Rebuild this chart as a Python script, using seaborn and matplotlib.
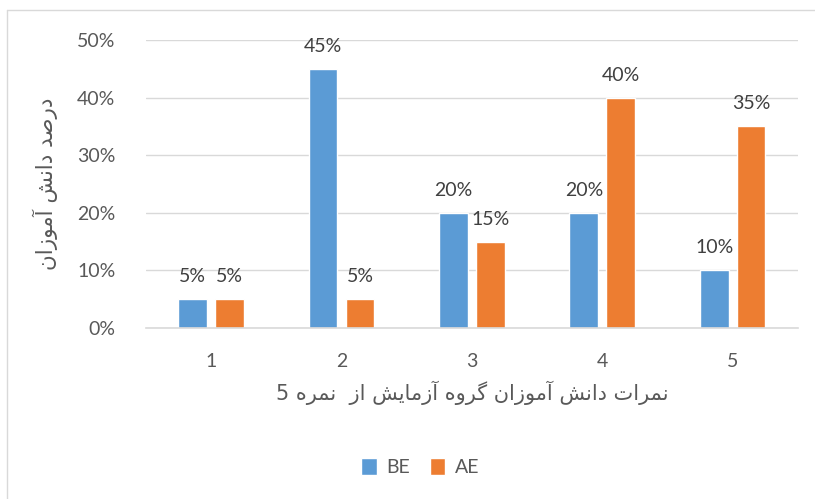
import pandas as pd
import matplotlib
matplotlib.use("Agg")
import matplotlib.pyplot as plt
from matplotlib.lines import Line2D
import seaborn as sns

# data
scores = ["1", "2", "3", "4", "5"]
be_values = [0.05, 0.45, 0.20, 0.20, 0.10]
ae_values = [0.05, 0.05, 0.15, 0.40, 0.35]
series = ["BE", "AE"]
y_ticks = [0, 0.1, 0.2, 0.3, 0.4, 0.5]
y_label = "درصد دانش آموزان"
x_label = "نمرات دانش آموزان گروه آزمایش از  نمره 5"

# tiny arabic shaper (no arabic_reshaper in the sandbox)
forms = {
    "ا": ("\uFE8D", "\uFE8E", None, None),
    "آ": ("\uFE81", "\uFE82", None, None),
    "د": ("\uFEA9", "\uFEAA", None, None),
    "ر": ("\uFEAD", "\uFEAE", None, None),
    "ز": ("\uFEAF", "\uFEB0", None, None),
    "و": ("\uFEED", "\uFEEE", None, None),
    "ت": ("\uFE95", "\uFE96", "\uFE97", "\uFE98"),
    "ش": ("\uFEB5", "\uFEB6", "\uFEB7", "\uFEB8"),
    "ص": ("\uFEB9", "\uFEBA", "\uFEBB", "\uFEBC"),
    "م": ("\uFEE1", "\uFEE2", "\uFEE3", "\uFEE4"),
    "ن": ("\uFEE5", "\uFEE6", "\uFEE7", "\uFEE8"),
    "ه": ("\uFEE9", "\uFEEA", "\uFEEB", "\uFEEC"),
    "ی": ("\uFBFC", "\uFBFD", "\uFBFE", "\uFBFF"),
    "گ": ("\uFB92", "\uFB93", "\uFB94", "\uFB95"),
}


def shape(s):
    out = []
    for i, c in enumerate(s):
        if c not in forms:
            out.append(c)
            continue
        prev = s[i - 1] if i > 0 else None
        nxt = s[i + 1] if i + 1 < len(s) else None
        jp = prev in forms and forms[prev][2] is not None
        jn = forms[c][2] is not None and nxt in forms
        iso, fin, ini, med = forms[c]
        if jp and jn:
            out.append(med)
        elif jp:
            out.append(fin)
        elif jn:
            out.append(ini)
        else:
            out.append(iso)
    return "".join(out)[::-1]


df = pd.DataFrame({
    "score": scores * 2,
    "value": be_values + ae_values,
    "group": [series[0]] * len(scores) + [series[1]] * len(scores),
})

sns.set_style("white")
plt.rcParams["font.family"] = ["Lato", "DejaVu Sans"]
gray = "#595959"

fig = plt.figure(figsize=(8.15, 4.99), dpi=100)
ax = fig.add_axes([0.179, 0.3427, 0.8, 0.5773])

sns.barplot(data=df, x="score", y="value", hue="group",
            palette=["#5B9BD5", "#ED7D31"], width=0.567, gap=0.226,
            saturation=1, ax=ax, legend=True)

for cont in ax.containers:
    ax.bar_label(cont, labels=[f"{v*100:.0f}%" for v in cont.datavalues],
                 padding=10, fontsize=14, color="#404040")

ax.set_ylim(0, 0.5)
ax.set_xlim(-0.5, 4.5)
ax.set_yticks(y_ticks)
ax.set_yticklabels([f"{t*100:.0f}%" for t in y_ticks])
ax.yaxis.grid(True, color="#d9d9d9", linewidth=1)
ax.set_axisbelow(True)
for s in ["top", "right", "left"]:
    ax.spines[s].set_visible(False)
ax.spines["bottom"].set_color("#d9d9d9")
ax.spines["bottom"].set_linewidth(1.2)
ax.tick_params(axis="both", length=0, labelsize=14, labelcolor=gray)
ax.tick_params(axis="y", pad=22)
ax.tick_params(axis="x", pad=18)

ax.set_xlabel(shape(x_label), fontsize=15, color=gray, labelpad=8,
              family="DejaVu Sans")
ax.set_ylabel(shape(y_label), fontsize=15.5, color=gray, labelpad=14,
              family="DejaVu Sans")

handles, labels = ax.get_legend_handles_labels()
ax.get_legend().remove()
fig.legend(handles, labels, loc="center", bbox_to_anchor=(0.516, 0.064),
           ncol=2, frameon=False, fontsize=14, labelcolor=gray,
           handlelength=0.8, handleheight=1.0, handletextpad=0.5,
           columnspacing=1.0)

# chart area border (top and left edges visible)
fig.add_artist(Line2D([0.0086, 1.0], [0.98, 0.98], transform=fig.transFigure,
                      color="#d9d9d9", linewidth=1))
fig.add_artist(Line2D([0.0086, 0.0086], [0.0, 0.98], transform=fig.transFigure,
                      color="#d9d9d9", linewidth=1))

fig.savefig("out.png", dpi=100)
